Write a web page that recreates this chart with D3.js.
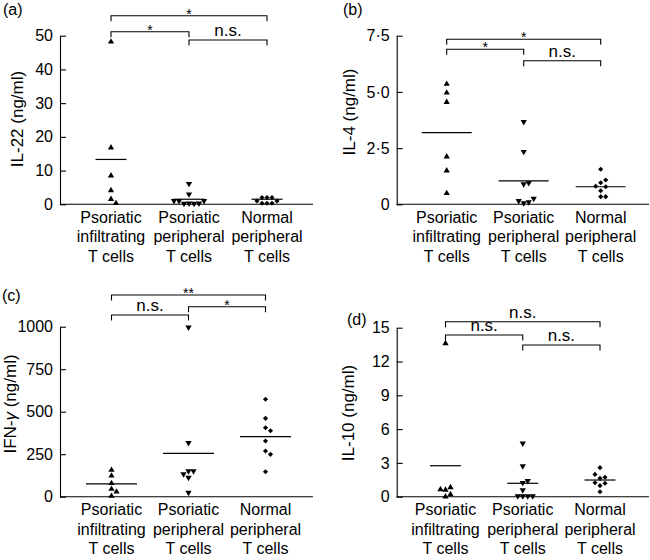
<!DOCTYPE html>
<html>
<head>
<meta charset="utf-8">
<script src="https://cdn.jsdelivr.net/npm/d3@7/dist/d3.min.js"></script>
<style>
  body { margin: 0; background: #fff; }
  svg { display: block; font-family: "Liberation Sans", Arial, sans-serif; }
</style>
</head>
<body>
<svg id="chart" width="650" height="560"></svg>
<script>
// ---------- DATA ----------
const categories = [
  ["Psoriatic", "infiltrating", "T cells"],
  ["Psoriatic", "peripheral", "T cells"],
  ["Normal", "peripheral", "T cells"]
];
const panelTitles = ["(a)", "(b)", "(c)", "(d)"];
const yTitles = ["IL-22 (ng/ml)", "IL-4 (ng/ml)", "IFN-γ (ng/ml)", "IL-10 (ng/ml)"];

// IL-22
const il22Infiltrating = [48.2, 16.8, 8.5, 4.1, 1.5, 0.3];
const il22PsPeripheral = [6.1, 3.0, 0.3, 0.2, 0.2, 0.3, 1.0, 1.0, 1.0];
const il22Normal = [2.0, 2.0, 2.0, 1.0, 1.0, 0.3, 0.3, 0.3];
const il22Means = [13.3, 1.5, 1.5];
const il22Ticks = [0, 10, 20, 30, 40, 50];
const il22TickLabels = ["0", "10", "20", "30", "40", "50"];
const il22Sig = ["*", "*", "n.s."];      // 1-3, 1-2, 2-3

// IL-4
const il4Infiltrating = [5.35, 4.96, 4.54, 2.12, 1.5, 0.49];
const il4PsPeripheral = [3.67, 2.34, 0.9, 0.95, 0.05, 0.1, 0.15, 0.25];
const il4Normal = [1.56, 0.96, 1.08, 0.6, 0.78, 0.8, 0.34, 0.34];
const il4Means = [3.19, 1.04, 0.78];
const il4Ticks = [0, 2.5, 5, 7.5];
const il4TickLabels = ["0", "2·5", "5·0", "7·5"];
const il4Sig = ["*", "*", "n.s."];

// IFN-gamma
const ifnInfiltrating = [157, 123, 79, 45, 29, 4];
const ifnPsPeripheral = [996, 317, 151, 151, 133, 112, 24];
const ifnNormal = [573, 461, 406, 388, 328, 269, 249, 147];
const ifnMeans = [75, 255, 353];
const ifnTicks = [0, 250, 500, 750, 1000];
const ifnTickLabels = ["0", "250", "500", "750", "1000"];
const ifnSig = ["**", "n.s.", "*"];

// IL-10
const il10Infiltrating = [13.6, 0.6, 0.83, 0.65, 0.2, 0.0];
const il10PsPeripheral = [4.74, 2.72, 1.24, 1.42, 0.59, 0.06, 0.06, 0.06, 0.06];
const il10Normal = [2.58, 1.63, 1.72, 1.98, 0.98, 1.24, 1.19, 0.44];
const il10Means = [2.75, 1.19, 1.48];
const il10Ticks = [0, 3, 6, 9, 12, 15];
const il10TickLabels = ["0", "3", "6", "9", "12", "15"];
const il10Sig = ["n.s.", "n.s.", "n.s."];

// ---------- LAYOUT ----------
const panels = [
  { groups: [il22Infiltrating, il22PsPeripheral, il22Normal], means: il22Means,
    ticks: il22Ticks, tickLabels: il22TickLabels, sig: il22Sig,
    left: 60, right: 313, top: 35.7, bottom: 204.3, c0: 111, c2: 267, meanW: 31,
    title: [3, 15], ylab: [17, 119], bracketY: [15.7, 31.7, 40] },
  { groups: [il4Infiltrating, il4PsPeripheral, il4Normal], means: il4Means,
    ticks: il4Ticks, tickLabels: il4TickLabels, sig: il4Sig,
    left: 396.7, right: 649, top: 35.7, bottom: 204.3, c0: 446.7, c2: 600.7, meanW: 50,
    title: [343, 15], ylab: [349, 112], bracketY: [39.3, 49.3, 60.7] },
  { groups: [ifnInfiltrating, ifnPsPeripheral, ifnNormal], means: ifnMeans,
    ticks: ifnTicks, tickLabels: ifnTickLabels, sig: ifnSig,
    left: 60, right: 313, top: 326.7, bottom: 496.7, c0: 111.5, c2: 265.5, meanW: 51,
    title: [2, 301], ylab: [10, 404], bracketY: [295, 315, 306.7] },
  { groups: [il10Infiltrating, il10PsPeripheral, il10Normal], means: il10Means,
    ticks: il10Ticks, tickLabels: il10TickLabels, sig: il10Sig,
    left: 396.7, right: 649, top: 327.7, bottom: 496.7, c0: 445.5, c2: 600, meanW: 31,
    title: [347, 325], ylab: [348, 413], bracketY: [321.7, 335, 345] }
];
const pairs = [[0, 2], [0, 1], [1, 2]];

const svg = d3.select("#chart");
const catKeys = categories.map(c => c.join(" "));

const symUp = d3.symbol(d3.symbolTriangle, 17)();
const symDiamond = d3.symbol(d3.symbolSquare, 13)();

panels.forEach((p, pi) => {
  const g = svg.append("g");
  const yMax = p.ticks[p.ticks.length - 1];
  const y = d3.scaleLinear().domain([0, yMax]).range([p.bottom, p.top]);
  const x = d3.scalePoint().domain(catKeys).range([p.c0, p.c2]);

  // y axis
  const yAxis = d3.axisLeft(y).tickValues(p.ticks)
    .tickFormat((d, i) => p.tickLabels[i]).tickSize(-6).tickSizeOuter(0).tickPadding(7);
  const ya = g.append("g").attr("transform", `translate(${p.left},0)`).call(yAxis);
  ya.selectAll("text").attr("font-size", 16).attr("fill", "#000")
    .attr("font-family", '"Liberation Sans", Arial, sans-serif');
  ya.selectAll("line, path").attr("stroke", "#000").attr("stroke-width", 1.1);

  // x axis line
  g.append("line").attr("x1", p.left).attr("x2", p.right)
    .attr("y1", p.bottom).attr("y2", p.bottom)
    .attr("stroke", "#000").attr("stroke-width", 1.1);

  // category labels
  catKeys.forEach((k, ci) => {
    const t = g.append("text").attr("text-anchor", "middle").attr("font-size", 16).attr("fill", "#000");
    categories[ci].forEach((line, li) => {
      t.append("tspan").attr("x", x(k)).attr("y", p.bottom + 18.7 + li * 19.3).text(line);
    });
  });

  // y title
  const yt = g.append("text").attr("transform", `translate(${p.ylab[0]},${p.ylab[1]}) rotate(-90)`)
    .attr("text-anchor", "middle").attr("dominant-baseline", "central")
    .attr("font-size", 17).attr("fill", "#000");
  if (yTitles[pi].includes("γ")) {
    const parts = yTitles[pi].split("γ");
    yt.append("tspan").text(parts[0]);
    yt.append("tspan").attr("font-style", "italic").text("γ");
    yt.append("tspan").text(parts[1]);
  } else {
    yt.text(yTitles[pi]);
  }

  // panel title
  g.append("text").attr("x", p.title[0]).attr("y", p.title[1])
    .attr("font-size", 16).attr("fill", "#000").text(panelTitles[pi]);

  // points with simple beeswarm spreading
  const step = 5, tolY = 5.5;
  p.groups.forEach((vals, gi) => {
    const cx = x(catKeys[gi]);
    const placed = [];
    vals.forEach(v => {
      const py = y(v);
      let k = 0, off = 0;
      while (true) {
        off = k === 0 ? 0 : (k % 2 === 1 ? Math.ceil(k / 2) * step : -Math.ceil(k / 2) * step);
        const hit = placed.some(q => Math.abs(q.dx - off) < step - 0.01 && Math.abs(q.py - py) < tolY);
        if (!hit) break;
        k++;
      }
      placed.push({ dx: off, py: py });
    });
    placed.forEach(q => {
      let tr = `translate(${cx + q.dx},${q.py})`;
      let d = symUp;
      if (gi === 1) tr += " rotate(180)";
      if (gi === 2) { d = symDiamond; tr += " rotate(45)"; }
      g.append("path").attr("d", d).attr("transform", tr).attr("fill", "#000");
    });
    // mean line
    g.append("line").attr("x1", cx - p.meanW / 2).attr("x2", cx + p.meanW / 2)
      .attr("y1", y(p.means[gi])).attr("y2", y(p.means[gi]))
      .attr("stroke", "#000").attr("stroke-width", 1.2);
  });

  // significance brackets
  pairs.forEach((pr, bi) => {
    const x1 = x(catKeys[pr[0]]), x2 = x(catKeys[pr[1]]);
    const by = p.bracketY[bi];
    g.append("path")
      .attr("d", `M${x1},${by + 5.5}V${by}H${x2}V${by + 5.5}`)
      .attr("fill", "none").attr("stroke", "#000").attr("stroke-width", 1.1);
    const lbl = p.sig[bi];
    const star = lbl.includes("*");
    g.append("text").attr("x", (x1 + x2) / 2).attr("y", star ? by + 3 : by - 4)
      .attr("text-anchor", "middle").attr("font-size", star ? 14 : 17)
      .attr("fill", "#000").text(lbl);
  });
});
</script>
</body>
</html>
